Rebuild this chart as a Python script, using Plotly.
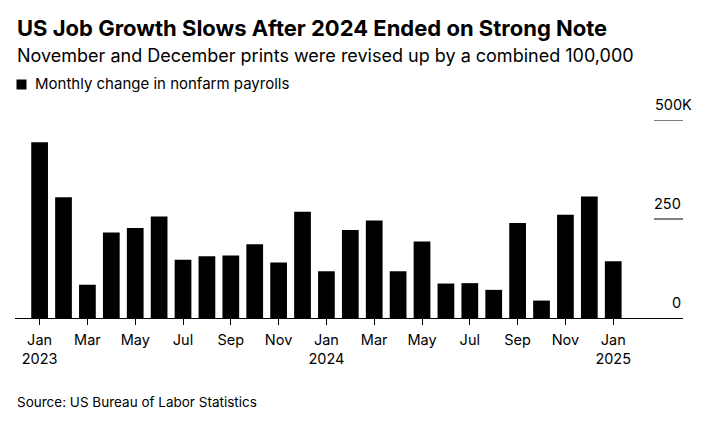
import plotly.graph_objects as go

# monthly change in nonfarm payrolls, thousands
months = ["Jan 2023", "Feb 2023", "Mar 2023", "Apr 2023", "May 2023", "Jun 2023",
          "Jul 2023", "Aug 2023", "Sep 2023", "Oct 2023", "Nov 2023", "Dec 2023",
          "Jan 2024", "Feb 2024", "Mar 2024", "Apr 2024", "May 2024", "Jun 2024",
          "Jul 2024", "Aug 2024", "Sep 2024", "Oct 2024", "Nov 2024", "Dec 2024",
          "Jan 2025"]
payrolls = [444, 305, 84, 216, 227, 256, 147, 156, 158, 186, 140, 268,
            118, 222, 246, 118, 193, 87, 88, 71, 240, 44, 261, 307,
            143]

tick_months = months[::2]
tick_text = ["Jan<br>2023", "Mar", "May", "Jul", "Sep", "Nov",
             "Jan<br>2024", "Mar", "May", "Jul", "Sep", "Nov",
             "Jan<br>2025"]

y_ticks = [0, 250, 500]
y_labels = ["0", "250", "500K"]

FONT = "Inter"
OFF = 8  # page body margin
W, H = 717 - OFF, 422 - OFF
# plot area in window pixels: x 15..683, y 120..318
L, R, T, B = 15 - OFF, 717 - 683, 120 - OFF, 422 - 318
plot_h = 318 - 120
plot_w = 683 - 15


def py(p):
    # window pixel row -> paper y
    return (318 - p) / plot_h


def pxx(p):
    # window pixel column -> paper x
    return (p - 15) / plot_w


fig = go.Figure()
fig.add_trace(go.Bar(x=months, y=payrolls, marker=dict(color="#000000", line=dict(width=0)),
                     name="Monthly change in nonfarm payrolls", showlegend=False))

annotations = [
    dict(text="<b>US Job Growth Slows After 2024 Ended on Strong Note</b>",
         x=pxx(15), y=py(28), xanchor="left", yanchor="middle",
         font=dict(size=22, color="#000", family=FONT)),
    dict(text="November and December prints were revised up by a combined 100,000",
         x=pxx(15), y=py(56), xanchor="left", yanchor="middle",
         font=dict(size=18, color="#000", family=FONT)),
    dict(text="Monthly change in nonfarm payrolls",
         x=pxx(33), y=py(84), xanchor="left", yanchor="middle",
         font=dict(size=15, color="#000", family=FONT)),
    dict(text="Source: US Bureau of Labor Statistics",
         x=pxx(15), y=py(402), xanchor="left", yanchor="middle",
         font=dict(size=13.5, color="#000", family=FONT)),
]
for v, lab in zip(y_ticks, y_labels):
    annotations.append(dict(text=lab, xref="paper", yref="y", x=1, y=v,
                            xanchor="right", yanchor="bottom", yshift=5,
                            xshift=11 if lab.endswith("K") else 0,
                            font=dict(size=14.5, color="#000", family=FONT)))
for a in annotations:
    a.setdefault("xref", "paper")
    a.setdefault("yref", "paper")
    a["showarrow"] = False

shapes = [dict(type="rect", xref="paper", yref="paper",
               x0=pxx(16.5), x1=pxx(26.5), y0=py(89.5), y1=py(79.5),
               fillcolor="#000", line=dict(width=0))]
for v in y_ticks[1:]:
    shapes.append(dict(type="line", xref="paper", yref="y",
                       x0=pxx(654), x1=1, y0=v, y1=v,
                       line=dict(color="#000", width=1)))

fig.update_layout(
    width=W, height=H,
    margin=dict(l=L, r=R, t=T, b=B),
    paper_bgcolor="white", plot_bgcolor="white",
    bargap=0.30,
    annotations=annotations,
    shapes=shapes,
    font=dict(family=FONT, color="#000"),
)
fig.update_xaxes(range=[-1.03, 26.92], tickvals=tick_months, ticktext=tick_text,
                 ticks="outside", ticklen=6, tickcolor="#000", tickwidth=1,
                 ticklabelstandoff=3,
                 showline=True, linecolor="#000", linewidth=1,
                 showgrid=False, tickfont=dict(size=14.5, color="#000", family=FONT))
fig.update_yaxes(range=[0, 500], showgrid=False, showticklabels=False,
                 zeroline=False, fixedrange=True)

fig.write_html("out.html")
